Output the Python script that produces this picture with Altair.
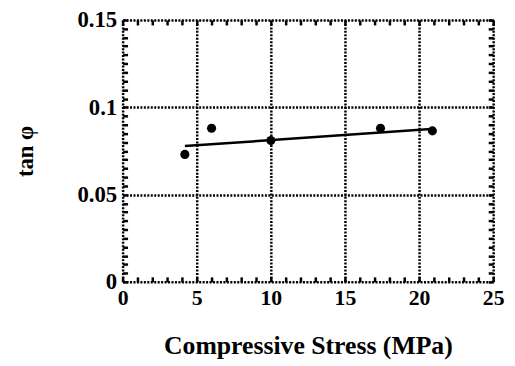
import altair as alt
import pandas as pd

# data
stress = [4.2, 6.0, 10.0, 17.4, 20.9]
tan_phi = [0.073, 0.088, 0.081, 0.088, 0.0865]
fit_stress = [4.2, 20.8]
fit_tan = [0.0778, 0.0875]

x_major = [0, 5, 10, 15, 20, 25]
y_major = [0, 0.05, 0.1, 0.15]
x_minor = list(range(0, 26))
y_minor = [round(i * 0.005, 4) for i in range(0, 31)]

pts = pd.DataFrame({"stress": stress, "tan": tan_phi})
fit = pd.DataFrame({"stress": fit_stress, "tan": fit_tan})

FONT = "Liberation Serif"
xs = alt.Scale(domain=[0, 25], nice=False, zero=False)
ys = alt.Scale(domain=[0, 0.15], nice=False, zero=False)

tick_ax = dict(labels=False, domain=False, grid=False, ticks=True, tickSize=5,
               tickWidth=2.5, tickColor="black", title=None, offset=-5)

main = alt.Chart(pts).mark_circle(size=85, color="black", opacity=1).encode(
    x=alt.X("stress:Q", scale=xs, axis=alt.Axis(
        orient="bottom", values=x_major, ticks=False, domain=False,
        grid=True, gridColor="black", gridDash=[2, 1.5], gridWidth=2.5, gridOpacity=1,
        labelFont=FONT, labelFontWeight="bold", labelFontSize=22, labelColor="black",
        labelPadding=6, labelFlush=False,
        title="Compressive Stress (MPa)", titleFont=FONT, titleFontWeight="bold",
        titleFontSize=26, titleColor="black", titlePadding=25)),
    y=alt.Y("tan:Q", scale=ys, axis=alt.Axis(
        orient="left", values=y_major, format=".2~f", ticks=False, domain=False,
        grid=True, gridColor="black", gridDash=[2, 1.5], gridWidth=2.5, gridOpacity=1,
        labelFont=FONT, labelFontWeight="bold", labelFontSize=23, labelColor="black",
        labelPadding=6, labelFlush=False,
        title="tan φ", titleFont=FONT, titleFontWeight="bold", titleFontSize=23,
        titleColor="black", titlePadding=40)),
)

line = alt.Chart(fit).mark_line(color="black", strokeWidth=2.5).encode(
    x=alt.X("stress:Q", scale=xs, axis=alt.Axis(orient="bottom", values=x_minor, **tick_ax)),
    y=alt.Y("tan:Q", scale=ys, axis=alt.Axis(orient="left", values=y_minor, **tick_ax)),
)

ghost = alt.Chart(pts).mark_point(opacity=0).encode(
    x=alt.X("stress:Q", scale=xs, axis=alt.Axis(orient="top", values=x_minor, **tick_ax)),
    y=alt.Y("tan:Q", scale=ys, axis=alt.Axis(orient="right", values=y_minor, **tick_ax)),
)

chart = alt.layer(main, line, ghost).resolve_axis(x="independent", y="independent").properties(
    width=375, height=265,
    autosize=alt.AutoSizeParams(type="none"),
    padding={"left": 116, "top": 10, "right": 14, "bottom": 82},
).configure_view(stroke="black", strokeWidth=3).configure(background="white")

chart.save("out.html", embed_options={"renderer": "svg", "actions": False})
